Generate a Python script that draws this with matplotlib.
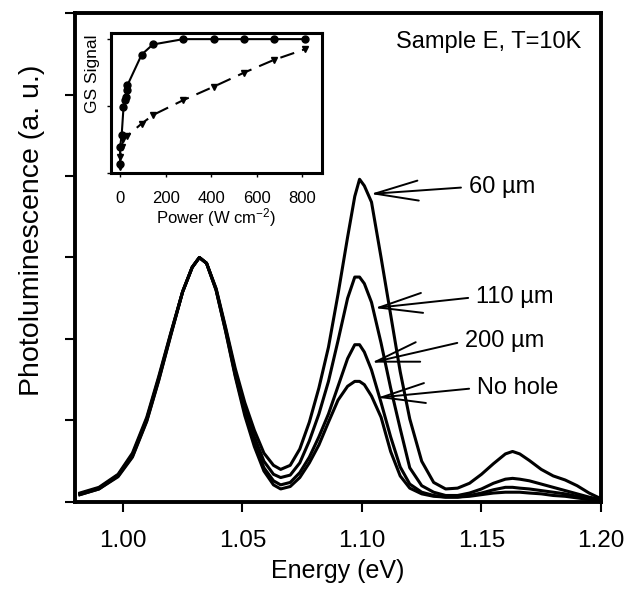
import matplotlib
matplotlib.use("Agg")
import matplotlib.pyplot as plt

plt.rcParams["font.family"] = ["Liberation Sans", "DejaVu Sans"]
plt.rcParams["mathtext.default"] = "regular"

# ---- main spectra ----
energy = [0.982, 0.990, 0.998, 1.004, 1.010, 1.015, 1.020, 1.025, 1.029, 1.032,
          1.035, 1.039, 1.043, 1.047, 1.051, 1.055, 1.059, 1.063, 1.066, 1.070,
          1.074, 1.078, 1.082, 1.086, 1.090, 1.094, 1.097, 1.099, 1.101, 1.104,
          1.108, 1.112, 1.116, 1.120, 1.125, 1.130, 1.135, 1.140, 1.145, 1.150,
          1.155, 1.160, 1.163, 1.166, 1.170, 1.175, 1.180, 1.185, 1.190, 1.195,
          1.200]

pl_60 = [0.11, 0.18, 0.34, 0.60, 1.04, 1.54, 2.07, 2.58, 2.88, 3.00,
         2.93, 2.62, 2.14, 1.64, 1.22, 0.88, 0.60, 0.45, 0.40, 0.45,
         0.65, 0.98, 1.40, 1.90, 2.55, 3.25, 3.75, 3.96, 3.88, 3.68,
         3.00, 2.30, 1.60, 1.02, 0.50, 0.24, 0.16, 0.17, 0.23, 0.34,
         0.47, 0.59, 0.62, 0.59, 0.51, 0.40, 0.32, 0.27, 0.20, 0.11,
         0.04]
pl_110 = [0.10, 0.17, 0.33, 0.58, 1.02, 1.52, 2.06, 2.58, 2.88, 3.00,
          2.93, 2.61, 2.12, 1.60, 1.16, 0.80, 0.50, 0.34, 0.30, 0.33,
          0.48, 0.75, 1.08, 1.48, 1.98, 2.50, 2.76, 2.76, 2.68, 2.45,
          1.95, 1.40, 0.90, 0.42, 0.20, 0.12, 0.08, 0.08, 0.11, 0.16,
          0.23, 0.28, 0.29, 0.28, 0.26, 0.22, 0.18, 0.14, 0.10, 0.06,
          0.03]
pl_200 = [0.09, 0.16, 0.32, 0.56, 1.00, 1.50, 2.05, 2.58, 2.88, 3.00,
          2.93, 2.60, 2.10, 1.56, 1.10, 0.72, 0.42, 0.26, 0.21, 0.24,
          0.36, 0.55, 0.80, 1.08, 1.42, 1.76, 1.93, 1.93, 1.84, 1.62,
          1.22, 0.80, 0.43, 0.22, 0.12, 0.08, 0.06, 0.06, 0.08, 0.11,
          0.15, 0.18, 0.18, 0.17, 0.16, 0.14, 0.12, 0.10, 0.07, 0.04,
          0.02]
pl_nohole = [0.09, 0.16, 0.31, 0.55, 0.99, 1.49, 2.04, 2.58, 2.88, 3.00,
             2.93, 2.60, 2.09, 1.54, 1.06, 0.68, 0.38, 0.21, 0.16, 0.19,
             0.30, 0.48, 0.70, 0.98, 1.25, 1.42, 1.48, 1.48, 1.44, 1.30,
             1.04, 0.62, 0.32, 0.17, 0.10, 0.07, 0.06, 0.06, 0.07, 0.09,
             0.11, 0.12, 0.12, 0.12, 0.11, 0.10, 0.08, 0.07, 0.05, 0.03,
             0.02]

labels = ["60 µm", "110 µm", "200 µm", "No hole"]
arrow_tip = [(1.1036, 3.78), (1.1053, 2.38), (1.1040, 1.71), (1.1065, 1.28)]
label_pos = [(1.1449, 3.865), (1.1479, 2.515), (1.1433, 1.975), (1.1483, 1.40)]

# ---- inset: GS signal vs power ----
power_circ = [0, 0, 7, 15, 22, 26, 32, 32, 95, 144, 278, 413, 545, 677, 813]
gs_circ = [0.14, 0.39, 0.57, 0.98, 1.09, 1.14, 1.24, 1.31, 1.77, 1.92,
           2.00, 2.00, 2.00, 2.00, 2.00]
power_tri = [0, 0, 7, 15, 29, 95, 146, 278, 411, 545, 676, 813]
gs_tri = [0.09, 0.24, 0.39, 0.51, 0.55, 0.74, 0.87, 1.09, 1.29, 1.50, 1.69, 1.85]

fig = plt.figure(figsize=(6.36, 5.91), dpi=100)
ax = fig.add_axes([0.118, 0.1506, 0.827, 0.8274])

for series in (pl_60, pl_110, pl_200, pl_nohole):
    ax.plot(energy, series, color="black", lw=2.2, solid_joinstyle="round")

ax.set_xlim(0.980, 1.200)
ax.set_ylim(0, 6)
ax.set_xticks([1.00, 1.05, 1.10, 1.15, 1.20])
ax.set_xticklabels(["1.00", "1.05", "1.10", "1.15", "1.20"])
ax.set_yticks(range(0, 7))
ax.set_yticklabels([])
ax.tick_params(axis="both", direction="out", length=7, width=1.5,
               labelsize=17.5, top=False, right=False)
ax.tick_params(axis="x", pad=13)
for sp in ax.spines.values():
    sp.set_linewidth(2.8)
ax.set_xlabel("Energy (eV)", fontsize=18, labelpad=5)
ax.set_ylabel("Photoluminescence (a. u.)", fontsize=20.5)
ax.yaxis.set_label_coords(-0.058, 0.555)

ax.text(0.962, 0.941, "Sample E, T=10K", transform=ax.transAxes,
        ha="right", va="center", fontsize=17)

for lab, tip, pos in zip(labels, arrow_tip, label_pos):
    ax.annotate(lab, xy=tip, xytext=pos, ha="left", va="center", fontsize=17,
                arrowprops=dict(arrowstyle="->,head_length=2.6,head_width=0.6",
                                mutation_scale=12, lw=1.4, color="black",
                                relpos=(0, 0.5), shrinkA=4, shrinkB=0))

# inset
ins = fig.add_axes([0.1745, 0.707, 0.332, 0.237])
ins.plot(power_circ, gs_circ, color="black", lw=1.5, marker="o", ms=5)
ins.plot(power_tri, gs_tri, color="black", lw=1.5, ls=(0, (7, 4)),
         marker="v", ms=5)
ins.set_xlim(-40, 888)
ins.set_ylim(0, 2.09)
ins.set_xticks([0, 200, 400, 600, 800])
ins.set_yticks([0, 1, 2])
ins.set_yticklabels([])
ins.tick_params(direction="out", length=3, width=1, labelsize=12, pad=10)
for sp in ins.spines.values():
    sp.set_linewidth(2.2)
ins.set_xlabel("Power (W cm$^{-2}$)", fontsize=12, labelpad=0)
ins.set_ylabel("GS Signal", fontsize=12.5)
ins.yaxis.set_label_coords(-0.05, 0.71)

fig.savefig("out.png", dpi=100)
